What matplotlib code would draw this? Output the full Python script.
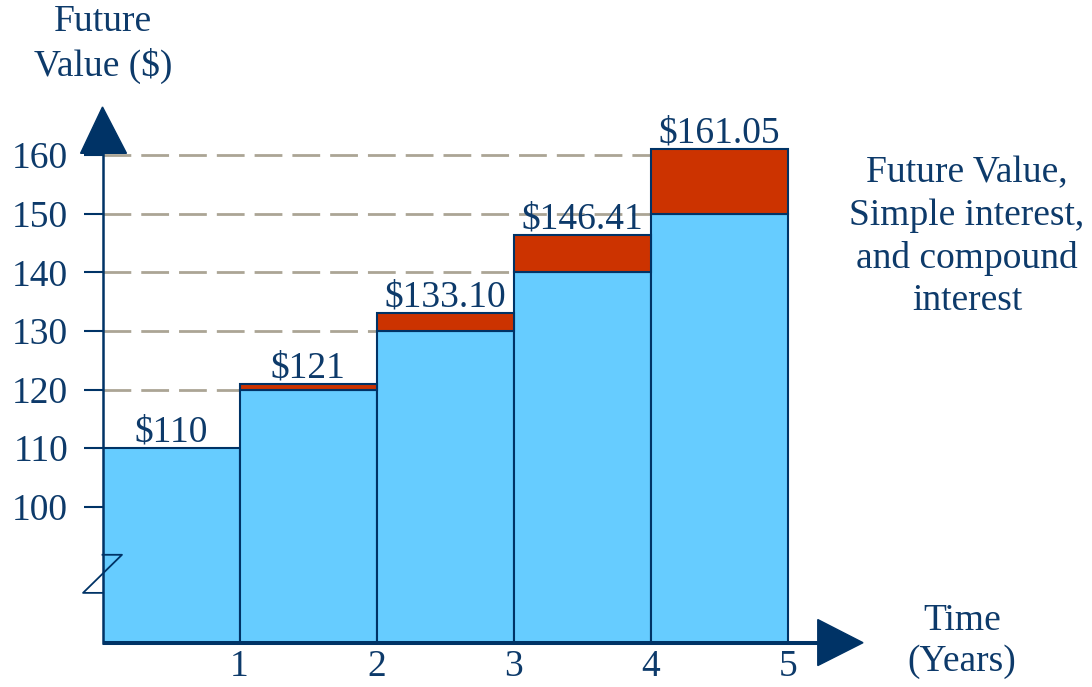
import matplotlib.pyplot as plt
from matplotlib.patches import Polygon

years = [1, 2, 3, 4, 5]
simple_fv = [110, 120, 130, 140, 150]
compound_fv = [110, 121, 133.10, 146.41, 161.05]
bar_labels = ['$110', '$121', '$133.10', '$146.41', '$161.05']
y_ticks = [100, 110, 120, 130, 140, 150, 160]

NAVY = '#003366'
TEXT = '#0d3a6a'
BLUE = '#66ccff'
RED = '#cc3300'
GRID = '#aba595'

plt.rcParams['font.family'] = ['Liberation Serif', 'DejaVu Serif']
plt.rcParams['font.size'] = 27

fig = plt.figure(figsize=(10.92, 6.87), dpi=100)
ax = fig.add_axes([102.5 / 1092, (687 - 642.7) / 687, 760.5 / 1092, 535.7 / 687])
base = 76.8  # value at the broken bottom of the y axis
ax.set_xlim(0, 5.55)
ax.set_ylim(base, 168.2)
for s in ax.spines.values():
    s.set_visible(False)

left = [y - 1 for y in years]

# blue = simple interest value, red = extra from compounding
ax.bar(left, [s - base for s in simple_fv], width=1, bottom=base, align='edge',
       color=BLUE, edgecolor=NAVY, lw=1.5, zorder=3)
extra = [c - s for c, s in zip(compound_fv, simple_fv)]
ex_left = [x for x, e in zip(left, extra) if e > 0]
ex_bot = [s for s, e in zip(simple_fv, extra) if e > 0]
ex_h = [e for e in extra if e > 0]
ax.bar(ex_left, ex_h, width=1, bottom=ex_bot, align='edge',
       color=RED, edgecolor=NAVY, lw=1.5, zorder=3)

# dashed guides run from the axis to the first bar that reaches them
for t in y_ticks:
    stop = next((x for x, c in zip(left, compound_fv) if c > t), None)
    if stop:
        ax.hlines(t, 0, stop, colors=GRID, linestyles=(0, (10, 3.6)), lw=2, zorder=1)

for x, c, lbl in zip(left, compound_fv, bar_labels):
    ax.annotate(lbl, (x + 0.5, c), xytext=(0, 4.5), textcoords='offset points',
                ha='center', va='baseline', color=TEXT, parse_math=False,
                annotation_clip=False)

ax.set_yticks(y_ticks)
ax.tick_params(axis='y', direction='out', length=13.7, width=1.5, color=NAVY,
               labelcolor=TEXT, pad=11)
ax.set_xticks(years)
ax.tick_params(axis='x', length=0, pad=5, labelcolor=TEXT)

# axes with arrow heads
ax.plot([0, 0], [base, 160.3], color=NAVY, lw=1.8, clip_on=False, zorder=5)
ax.plot([0, 5.22], [base, base], color=NAVY, lw=2.9, clip_on=False, zorder=5,
        solid_capstyle='butt')
ax.add_patch(Polygon([(-0.16, 160.3), (0.175, 160.3), (0, 168.2)],
                     color=NAVY, clip_on=False, zorder=5))
ax.add_patch(Polygon([(5.22, 80.75), (5.22, 72.9), (5.55, base)],
                     color=NAVY, clip_on=False, zorder=5))

# axis break mark
ax.plot([0, 0.142, -0.142, 0], [91.8, 91.8, 85.3, 85.3], color=NAVY, lw=1.3,
        clip_on=False, zorder=5)

fig.text(103 / 1092, 1 - 44 / 687, 'Future\nValue ($)', ha='center', va='center',
         color=TEXT, parse_math=False, linespacing=1.32)
fig.text(967 / 1092, 1 - 237 / 687,
         'Future Value,\nSimple interest,\nand compound\ninterest',
         ha='center', va='center', color=TEXT, linespacing=1.3)
fig.text(962 / 1092, 1 - 641 / 687, 'Time\n(Years)', ha='center', va='center',
         color=TEXT, linespacing=1.25)

fig.savefig('out.png', dpi=100)
